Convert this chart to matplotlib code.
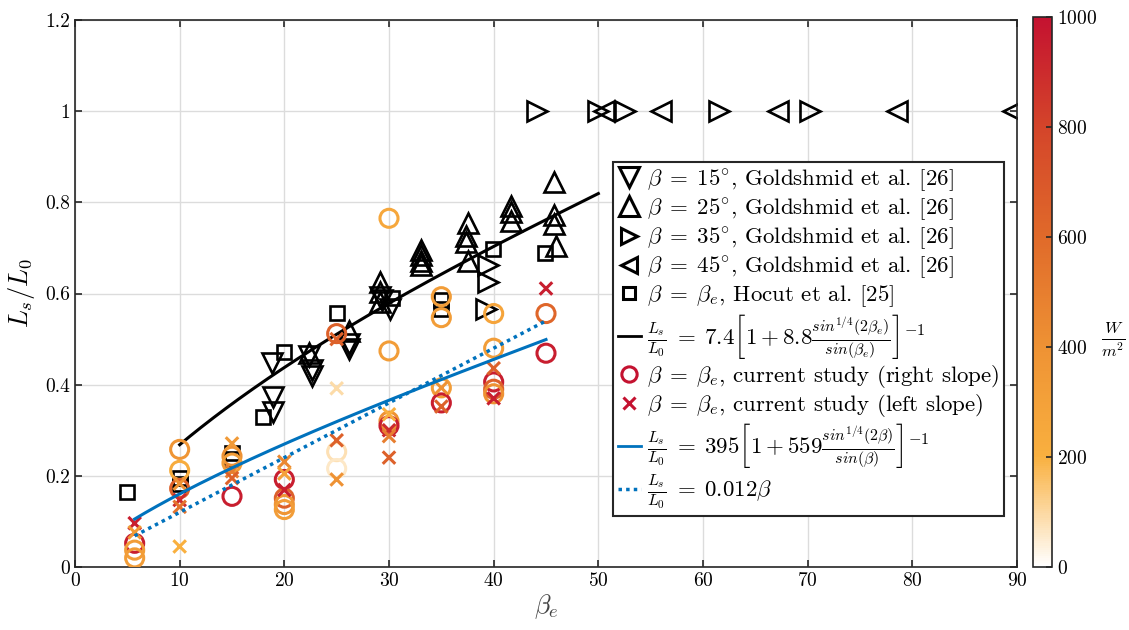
import numpy as np
import matplotlib
matplotlib.use("Agg")
import matplotlib.pyplot as plt
from matplotlib.colors import LinearSegmentedColormap
from matplotlib.lines import Line2D

plt.rcParams['font.family'] = ['cmr10', 'DejaVu Serif']
plt.rcParams['mathtext.fontset'] = 'cm'
plt.rcParams['axes.formatter.use_mathtext'] = True

# ---------------- data ----------------
# Goldshmid et al. [26]
g15_x = [18.8, 18.9, 18.9, 22.4, 22.6, 22.6, 26.2, 26.2, 29.1, 29.3, 30.1]
g15_y = [0.447, 0.373, 0.340, 0.462, 0.432, 0.418, 0.490, 0.478, 0.593, 0.585, 0.565]
g25_x = [22.4, 26.2, 29.1, 29.1, 29.1, 33.1, 33.1, 33.1, 33.1, 37.5, 37.4, 37.4, 37.5,
         41.7, 41.7, 41.7, 45.8, 45.8, 45.8, 46.0]
g25_y = [0.470, 0.518, 0.626, 0.603, 0.582, 0.695, 0.685, 0.672, 0.662, 0.754, 0.726, 0.713, 0.672,
         0.792, 0.778, 0.760, 0.845, 0.772, 0.752, 0.704]
g35_x = [39.5, 39.5, 39.3, 44.1, 50.0, 52.5, 61.5, 70.2]
g35_y = [0.662, 0.625, 0.566, 1.0, 1.0, 1.0, 1.0, 1.0]
g45_x = [50.5, 56.0, 67.2, 78.5, 89.6]
g45_y = [1.0, 1.0, 1.0, 1.0, 1.0]
# Hocut et al. [25]
hoc_x = [5.0, 10.0, 10.0, 15.0, 15.0, 18.0, 20.0, 25.0, 30.3, 35.0, 35.0, 39.9, 44.9]
hoc_y = [0.165, 0.195, 0.182, 0.249, 0.236, 0.330, 0.472, 0.558, 0.590, 0.585, 0.567, 0.698, 0.688]
# current study, right slope (circles) and left slope (crosses), colour = irradiance W/m^2
rs_x = [5.7, 5.7, 5.7, 10, 10, 10, 15, 15, 15, 20, 20, 20, 20, 25, 25, 25,
        30, 30, 30, 30, 35, 35, 35, 35, 40, 40, 40, 40, 40, 45, 45]
rs_y = [0.052, 0.037, 0.020, 0.258, 0.212, 0.172, 0.243, 0.228, 0.155, 0.192, 0.151, 0.137, 0.126,
        0.512, 0.253, 0.216, 0.765, 0.474, 0.320, 0.310, 0.593, 0.547, 0.393, 0.360,
        0.556, 0.480, 0.406, 0.390, 0.380, 0.556, 0.469]
rs_c = [950, 330, 330, 380, 230, 650, 400, 330, 950, 950, 650, 380, 330,
        650, 80, 60, 260, 330, 400, 950, 330, 330, 330, 950,
        280, 330, 950, 650, 400, 620, 950]
ls_x = [5.7, 5.7, 10, 10, 10, 10, 15, 15, 15, 20, 20, 20, 25, 25, 25, 25,
        30, 30, 30, 30, 35, 35, 40, 40, 45]
ls_y = [0.096, 0.076, 0.183, 0.147, 0.132, 0.045, 0.271, 0.210, 0.195, 0.231, 0.205, 0.169,
        0.500, 0.392, 0.278, 0.192, 0.335, 0.300, 0.287, 0.240, 0.393, 0.352, 0.436, 0.370, 0.611]
ls_c = [950, 350, 400, 900, 550, 200, 350, 500, 650, 450, 300, 950,
        650, 90, 650, 400, 200, 900, 500, 650, 400, 650, 650, 950, 950]

# model curves (coefficients of the plotted black fit as drawn, blue as in legend)
black_range = (10, 50)
black_a, black_b = 5.88, 4.75
blue_range = (5.7, 45)
blue_a, blue_b = 395, 559
lin_slope = 0.012

xticks = [0, 10, 20, 30, 40, 50, 60, 70, 80, 90]
yticks = [0, 0.2, 0.4, 0.6, 0.8, 1.0, 1.2]
yticklabels = ['0', '0.2', '0.4', '0.6', '0.8', '1', '1.2']
cbar_ticks = [0, 200, 400, 600, 800, 1000]

# ---------------- figure ----------------
cmap = LinearSegmentedColormap.from_list(
    'irr', [(0.0, '#ffffff'), (0.2, '#f9b03f'), (0.4, '#ee9234'), (0.6, '#e06a2a'),
            (0.8, '#d4452a'), (1.0, '#c41230')])

fig = plt.figure(figsize=(11.29, 6.30), dpi=100)
ax = fig.add_axes([75 / 1129, 63 / 630, 942 / 1129, 547 / 630])

lw_m = 1.9
ax.plot(g15_x, g15_y, linestyle='none', marker='v', ms=15, mfc='none', mec='black', mew=lw_m)
ax.plot(g25_x, g25_y, linestyle='none', marker='^', ms=15, mfc='none', mec='black', mew=lw_m)
ax.plot(g35_x, g35_y, linestyle='none', marker='>', ms=15, mfc='none', mec='black', mew=lw_m)
ax.plot(g45_x, g45_y, linestyle='none', marker='<', ms=15, mfc='none', mec='black', mew=lw_m)
ax.plot(hoc_x, hoc_y, linestyle='none', marker='s', ms=10, mfc='none', mec='black', mew=lw_m)

def ratio(b):
    r = np.deg2rad(b)
    return np.sin(2 * r) ** 0.25 / np.sin(r)

bx = np.linspace(*black_range, 200)
ax.plot(bx, black_a / (1 + black_b * ratio(bx)), color='black', lw=2.2)

norm = plt.Normalize(0, 1000)
ax.scatter(rs_x, rs_y, s=13 ** 2, facecolors='none', edgecolors=cmap(norm(rs_c)), linewidths=2.2, zorder=3)
ax.scatter(ls_x, ls_y, s=9 ** 2, marker='x', c=cmap(norm(ls_c)), linewidths=2.2, zorder=3)

ux = np.linspace(*blue_range, 200)
ax.plot(ux, blue_a / (1 + blue_b * ratio(ux)), color='#0072bd', lw=2.2, zorder=4)
ax.plot(ux, lin_slope * ux, color='#0072bd', lw=2.5, ls=(0, (1, 1.2)), zorder=4)

ax.set_xlim(0, 90)
ax.set_ylim(0, 1.2)
ax.set_xticks(xticks)
ax.set_yticks(yticks)
ax.set_yticklabels(yticklabels)
ax.tick_params(direction='in', top=True, right=True, labelsize=14, length=5, width=1.2, color='#262626')
ax.grid(True, color='#dcdcdc', lw=1)
for s in ax.spines.values():
    s.set_color('#262626')
    s.set_linewidth(1.2)
ax.set_xlabel(r'$\beta_e$', fontsize=19, color='#444444', labelpad=2)
ax.set_ylabel(r'$L_s/L_0$', fontsize=19, labelpad=6)

handles = [
    Line2D([], [], ls='none', marker='v', ms=14, mfc='none', mec='black', mew=2.2),
    Line2D([], [], ls='none', marker='^', ms=14, mfc='none', mec='black', mew=2.2),
    Line2D([], [], ls='none', marker='>', ms=12, mfc='none', mec='black', mew=2.2),
    Line2D([], [], ls='none', marker='<', ms=12, mfc='none', mec='black', mew=2.2),
    Line2D([], [], ls='none', marker='s', ms=9, mfc='none', mec='black', mew=2.2),
    Line2D([], [], color='black', lw=2),
    Line2D([], [], ls='none', marker='o', ms=11, mfc='none', mec='#c41230', mew=2.2),
    Line2D([], [], ls='none', marker='x', ms=8, mec='#c41230', mew=2.2),
    Line2D([], [], color='#0072bd', lw=2),
    Line2D([], [], color='#0072bd', lw=2.5, ls=(0, (1, 1.2))),
]
labels = [
    r'$\beta\;=\;15^{\circ}$, Goldshmid et al. [26]',
    r'$\beta\;=\;25^{\circ}$, Goldshmid et al. [26]',
    r'$\beta\;=\;35^{\circ}$, Goldshmid et al. [26]',
    r'$\beta\;=\;45^{\circ}$, Goldshmid et al. [26]',
    r'$\beta\;=\;\beta_e$, Hocut et al. [25]',
    r'$\frac{L_s}{L_0}\;=\;7.4\left[1 + 8.8\frac{sin^{1/4}(2\beta_e)}{sin(\beta_e)}\right]^{-1}$',
    r'$\beta\;=\;\beta_e$, current study (right slope)',
    r'$\beta\;=\;\beta_e$, current study (left slope)',
    r'$\frac{L_s}{L_0}\;=\;395\left[1 + 559\frac{sin^{1/4}(2\beta)}{sin(\beta)}\right]^{-1}$',
    r'$\frac{L_s}{L_0}\;=\;0.012\beta$',
]
leg = ax.legend(handles, labels, loc='upper left', bbox_to_anchor=((613 - 75) / 942, (567 - 162) / 547),
                borderaxespad=0, fontsize=16.5, handlelength=1.0, handletextpad=0.3,
                labelspacing=0.1, borderpad=0.2, fancybox=False, framealpha=1,
                edgecolor='#262626')
leg.get_frame().set_linewidth(1.5)

cax = fig.add_axes([1033 / 1129, 63 / 630, 19 / 1129, 550 / 630])
sm = plt.cm.ScalarMappable(norm=norm, cmap=cmap)
cb = fig.colorbar(sm, cax=cax, ticks=cbar_ticks)
cb.ax.tick_params(labelsize=14, direction='in', length=4, width=1.2, color='#262626')
cb.outline.set_linewidth(1.2)
cb.outline.set_edgecolor('#262626')
fig.text(1113 / 1129, 1 - 340 / 630, r'$\frac{W}{m^2}$', fontsize=17, ha='center', va='center')

fig.savefig('out.png', dpi=100)
